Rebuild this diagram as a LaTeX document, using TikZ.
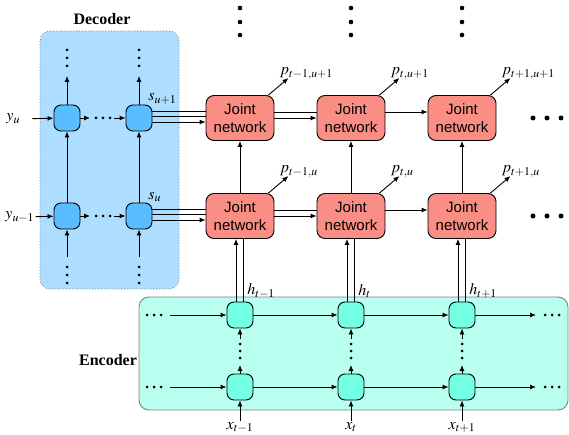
\documentclass[tikz,border=0pt]{standalone}
\usepackage{mathptmx}
\usepackage{fontspec}
\setmainfont{Liberation Serif}
\newfontfamily\jointfont{Liberation Sans}
\usepackage{tikz}
\usetikzlibrary{arrows.meta}

\definecolor{decbg}{RGB}{173,222,255}
\definecolor{decfill}{RGB}{88,190,255}
\definecolor{jointfill}{RGB}{250,142,132}
\definecolor{encbg}{RGB}{184,255,240}
\definecolor{encfill}{RGB}{115,255,228}

\begin{document}
\begin{tikzpicture}[
          x=1pt,y=-1pt,
          line width=0.9pt,
          arr/.style={-{Latex[length=6pt,width=5pt]}},
          cell/.style={
              draw,
              rounded corners=7pt,
              minimum width=26pt,
              minimum height=26pt,
              inner sep=0pt
            },deccell/.style={cell,fill=decfill},
          enccell/.style={cell,fill=encfill},
          joint/.style={
              draw,
              fill=jointfill,
              rounded corners=8pt,
              minimum width=68pt,
              minimum height=45pt,
              inner sep=0pt,
              align=center,
              font=\jointfont\fontsize{15}{18}\selectfont
            },lab/.style={inner sep=0pt,font=\fontsize{16}{18}\selectfont},
          boxtitle/.style={font=\bfseries\fontsize{16}{18}\selectfont}
        ]
        \useasboundingbox (0,0) rectangle (569,435);

        % 背景の枠
        \draw[gray,dotted,fill=decbg,rounded corners=10pt] (40,31) rectangle (179,289);
        \draw[gray,fill=encbg,rounded corners=10pt] (139,297) rectangle (568,410);
        \node[boxtitle] (dectitle) at (102,19) {Decoder};
        \node[boxtitle] (enctitle) at (108,360) {Encoder};

        % ノードの定義
        \node[deccell] (d11) at (67,118) {};
        \node[deccell] (d12) at (139,118) {};
        \node[deccell] (d21) at (67,216) {};
        \node[deccell] (d22) at (139,216) {};
        \foreach \c/\x in {1/240,2/351,3/462}{
            \node[joint] (j1\c) at (\x,118) {Joint\\network};
            \node[joint] (j2\c) at (\x,216) {Joint\\network};
            \node[enccell] (e1\c) at (\x,315) {};
            \node[enccell] (e2\c) at (\x,387) {};
          }

        % デコーダ側の入力
        \node[lab,anchor=west] (yu) at (6,119) {$y_u$};
        \node[lab,anchor=west] (yu1) at (5,217) {$y_{u-1}$};
        \draw[arr,shorten <=12pt] (yu) -- (d11);
        \draw[arr,shorten <=1pt] (yu1) -- (d21);
        \node[lab,anchor=south west] (su1) at ([xshift=9pt,yshift=0pt]d12.north) {$s_{u+1}$};
        \node[lab,anchor=south west] (su) at ([xshift=9pt,yshift=0pt]d22.north) {$s_u$};

        % デコーダ内の横の経路
        \foreach \r/\y in {1/118,2/216}{
            \coordinate (da\r) at (90,\y);
            \coordinate (db\r) at (114,\y);
            \draw[arr] (d\r1) -- (da\r);
            \foreach \k in {96,103,110} \fill (\k,\y) circle (1.5);
            \draw[arr] (db\r) -- (d\r2);
          }
        % デコーダ内の縦の経路
        \foreach \c/\x in {1/67,2/139}{
            \coordinate (dt\c) at (\x,76);
            \draw[arr] (d1\c) -- (dt\c);
            \foreach \k in {50,58,66} \fill (\x,\k) circle (1.5);
            \draw[arr] (d2\c) -- (d1\c);
            \coordinate (dd\c) at (\x,257);
            \draw[arr] (dd\c) -- (d2\c);
            \foreach \k in {267,275,283} \fill (\x,\k) circle (1.5);
          }

        % s_u から Joint network へ
        \foreach \r/\y in {1/118,2/216}{
            \draw ([yshift=7pt]d\r2.east) -- ([yshift=7pt]j\r1.west);
            \draw ([yshift=2pt]d\r2.east) -- ([yshift=2pt]j\r1.west);
            \draw[arr] ([yshift=-4pt]d\r2.east) -- ([yshift=-4pt]j\r1.west);
            \draw ([yshift=6pt]j\r1.east) -- ([yshift=6pt]j\r2.west);
            \draw[arr] (j\r1.east) -- (j\r2.west);
            \draw[arr] ([yshift=6pt]j\r2.east) -- ([yshift=6pt]j\r3.west);
            \foreach \k in {533,547,561} \fill (\k,\y) circle (2.5);
          }

        % 出力 p
        \foreach \r/\c/\s in {1/1/{t-1,u+1},1/2/{t,u+1},1/3/{t+1,u+1},
            2/1/{t-1,u},2/2/{t,u},2/3/{t+1,u}}{
            \coordinate (p\r\c) at ([xshift=14pt,yshift=17pt]j\r\c.north east);
            \draw[arr] ([xshift=-6pt]j\r\c.north east) -- (p\r\c);
            \node[lab,anchor=south west] (pl\r\c) at ([xshift=-9pt,yshift=-2pt]p\r\c) {$p_{\s}$};
          }

        % Joint network の縦の経路とエンコーダ
        \foreach \c/\x/\s in {1/240/{t-1},2/351/{t},3/462/{t+1}}{
            \draw[arr] (j2\c) -- (j1\c);
            \draw[arr] ([xshift=-4pt]e1\c.north) -- ([xshift=-4pt]j2\c.south);
            \draw ([xshift=3pt]e1\c.north) -- ([xshift=3pt]j2\c.south);
            \node[lab,anchor=south west] (h\c) at ([xshift=7pt,yshift=3pt]e1\c.north) {$h_{\s}$};
            \coordinate (em\c) at (\x,365);
            \draw[arr] (e2\c) -- (em\c);
            \foreach \k in {358,351,344} \fill (\x,\k) circle (1.5);
            \coordinate (en\c) at (\x,339);
            \draw[arr] (en\c) -- (e1\c);
            \coordinate (ex\c) at (\x,421);
            \draw[arr] (ex\c) -- (e2\c);
            \node[lab,anchor=north] (x\c) at ([yshift=-1pt]ex\c) {$x_{\s}$};
            \foreach \k in {8,22,35} \fill (\x,\k) circle (2.3);
          }

        % エンコーダ内の横の経路
        \foreach \r/\y in {1/315,2/387}{
            \foreach \k in {147,154,161} \fill (\k,\y) circle (1.5);
            \coordinate (el\r) at (170,\y);
            \draw[arr] (el\r) -- (e\r1);
            \draw[arr] (e\r1) -- (e\r2);
            \draw[arr] (e\r2) -- (e\r3);
            \coordinate (er\r) at (536,\y);
            \draw[arr] (e\r3) -- (er\r);
            \foreach \k in {545,552,559} \fill (\k,\y) circle (1.5);
          }

      \end{tikzpicture}
\end{document}
